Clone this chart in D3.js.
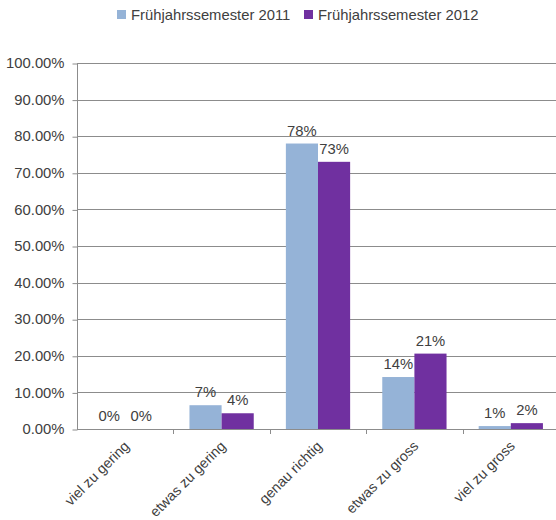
<!DOCTYPE html>
<html>
<head>
<meta charset="utf-8">
<script src="https://cdn.jsdelivr.net/npm/d3@7"></script>
<style>
  html, body { margin: 0; padding: 0; background: #fff; }
  svg { display: block; font-family: "Liberation Sans", Arial, sans-serif; }
</style>
</head>
<body>
<svg id="chart" width="556" height="520"></svg>
<script>
// Answers grouped by semester
const categories = ["viel zu gering", "etwas zu gering", "genau richtig", "etwas zu gross", "viel zu gross"];
const seriesNames = ["Frühjahrssemester 2011", "Frühjahrssemester 2012"];
const values2011 = [0, 0.065, 0.78, 0.142, 0.008];
const values2012 = [0, 0.043, 0.73, 0.206, 0.016];
const yTicks = [0, 0.1, 0.2, 0.3, 0.4, 0.5, 0.6, 0.7, 0.8, 0.9, 1.0];
const colors = ["#95B3D7", "#7030A0"];

const seriesValues = [values2011, values2012];
const rows = categories.map((c, i) => ({
  category: c,
  values: seriesNames.map((s, j) => ({ series: s, index: j, value: seriesValues[j][i] }))
}));

const svg = d3.select("#chart");
const margin = { left: 77, right: 559, top: 63, bottom: 429 };
const textColor = "#404040";
const fontSize = "14.8px";

const x0 = d3.scaleBand().domain(categories).range([margin.left, margin.right]).paddingInner(0).paddingOuter(0);
const x1 = d3.scaleBand().domain(seriesNames).range([0, x0.bandwidth()]).paddingInner(0).paddingOuter(0.5);
const y = d3.scaleLinear().domain([0, 1]).range([margin.bottom, margin.top]);

// Horizontal gridlines
svg.append("g")
  .selectAll("line")
  .data(yTicks.filter(t => t > 0))
  .join("line")
  .attr("x1", margin.left).attr("x2", margin.right)
  .attr("y1", d => Math.round(y(d)) + 0.5).attr("y2", d => Math.round(y(d)) + 0.5)
  .attr("stroke", "#8c8c8c").attr("stroke-width", 1);

// Y axis
const yAxis = d3.axisLeft(y).tickValues(yTicks).tickFormat(d3.format(".2%")).tickSize(5).tickPadding(8);
const gy = svg.append("g").attr("transform", `translate(${margin.left + 0.5},0)`).call(yAxis);
gy.select(".domain").attr("stroke", "#8c8c8c").attr("d", `M0,${margin.top}V${margin.bottom + 0.5}`);
gy.selectAll(".tick line").attr("stroke", "#8c8c8c").attr("transform", "translate(0,0.5)");
gy.selectAll(".tick text").attr("fill", textColor).style("font-size", fontSize)
  .style("font-family", "'Liberation Sans', Arial, sans-serif");

// Bars
const groups = svg.append("g")
  .selectAll("g")
  .data(rows)
  .join("g")
  .attr("transform", d => `translate(${x0(d.category)},0)`);

groups.selectAll("rect")
  .data(d => d.values)
  .join("rect")
  .attr("x", d => x1(d.series))
  .attr("width", x1.bandwidth())
  .attr("y", d => y(d.value))
  .attr("height", d => y(0) - y(d.value))
  .attr("fill", d => colors[d.index]);

// Value labels
groups.selectAll("text")
  .data(d => d.values)
  .join("text")
  .attr("x", d => x1(d.series) + x1.bandwidth() / 2)
  .attr("y", d => y(d.value) - 8)
  .attr("text-anchor", "middle")
  .attr("fill", textColor)
  .style("font-size", fontSize)
  .text(d => Math.round(d.value * 100) + "%");

// X axis line and ticks
const xAxisG = svg.append("g");
xAxisG.append("line")
  .attr("x1", margin.left).attr("x2", margin.right)
  .attr("y1", margin.bottom + 0.5).attr("y2", margin.bottom + 0.5)
  .attr("stroke", "#8c8c8c");
xAxisG.selectAll("line.tick")
  .data(categories.slice(1))
  .join("line")
  .attr("class", "tick")
  .attr("x1", d => Math.round(x0(d)) + 0.5).attr("x2", d => Math.round(x0(d)) + 0.5)
  .attr("y1", margin.bottom).attr("y2", margin.bottom + 5)
  .attr("stroke", "#8c8c8c");

// Rotated category labels
xAxisG.selectAll("text")
  .data(categories)
  .join("text")
  .attr("transform", d => `translate(${x0(d) + x0.bandwidth() / 2 + 5},447) rotate(-45)`)
  .attr("text-anchor", "end")
  .attr("fill", textColor)
  .style("font-size", "14.3px")
  .text(d => d);

// Legend
const legend = svg.append("g");
const legendX = [117, 304];
seriesNames.forEach((s, i) => {
  legend.append("rect")
    .attr("x", legendX[i]).attr("y", 10).attr("width", 9).attr("height", 9)
    .attr("fill", colors[i]);
  legend.append("text")
    .attr("x", legendX[i] + 14).attr("y", 20)
    .attr("fill", textColor)
    .style("font-size", fontSize)
    .text(s);
});
</script>
</body>
</html>
